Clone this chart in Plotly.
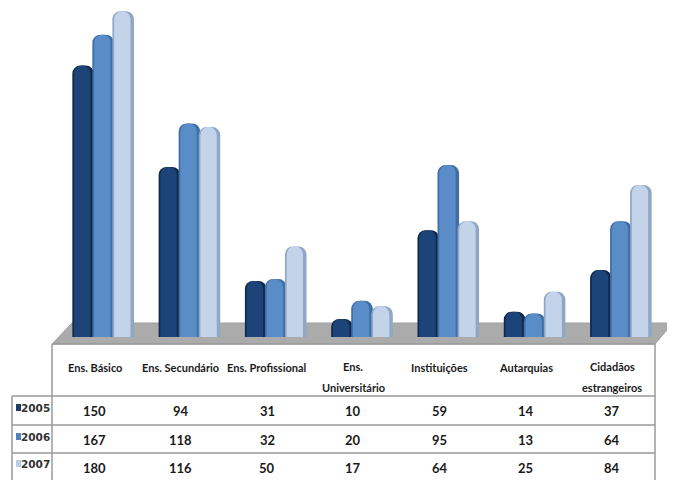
import plotly.graph_objects as go

categories = ["Ens. Básico", "Ens. Secundário", "Ens. Profissional", "Ens.<br>Universitário",
              "Instituições", "Autarquias", "Cidadãos<br>estrangeiros"]
years = ["2005", "2006", "2007"]
v2005 = [150, 94, 31, 10, 59, 14, 37]
v2006 = [167, 118, 32, 20, 95, 13, 64]
v2007 = [180, 116, 50, 17, 64, 25, 84]
series = [v2005, v2006, v2007]
edge = ["#12294a", "#3f6ea6", "#8fa6c4"]
main = ["#1d4478", "#5a8cc8", "#c3d4ea"]
key = ["#1d3d6b", "#4f81bd", "#b9cde5"]

# The page body adds an 8px margin, so the figure is 8px smaller and all page coordinates shift by 8.
PAGE = 8
W, H = 667, 472
ML, MR, MT, MB = 52, 11, 0, 143
def px(x):
    return (x - PAGE - ML) / (W - ML - MR)
def py(y):
    return 1 - (y - PAGE - MT) / (H - MT - MB)

FONT = "Lato, sans-serif"
INK = "#1a1a1a"
fig = go.Figure()
xs = list(range(len(categories)))
shift = [-0.232, 0, 0.232]
for i, yr in enumerate(years):
    fig.add_bar(x=xs, y=series[i], width=0.25, offset=shift[i] - 0.125,
                marker=dict(color=edge[i], line_width=0), name=yr, showlegend=False, hoverinfo="y")
    fig.add_bar(x=xs, y=series[i], width=0.19, offset=shift[i] - 0.105,
                marker=dict(color=main[i], line_width=0), name=yr, showlegend=False, hoverinfo="skip")

shapes = [
    dict(type="path", path=f"M {px(52)} {py(344)} L {px(72)} {py(323)} L {px(673)} {py(323)} L {px(655)} {py(344)} Z",
         xref="paper", yref="paper", fillcolor="#ababab", line=dict(color="#a0a0a0", width=1), layer="below"),
]
def seg(x0, y0, x1, y1):
    return dict(type="line", xref="paper", yref="paper", x0=px(x0), y0=py(y0), x1=px(x1), y1=py(y1),
                line=dict(color="#9a9a9a", width=1.5))
shapes += [seg(52, 344, 655, 344), seg(52, 344, 52, 480), seg(655, 344, 655, 480),
           seg(12, 396, 655, 396), seg(12, 425, 655, 425), seg(12, 453, 655, 453), seg(12, 396, 12, 480)]

ann = []
row_y = [411, 440, 468]
label_y = [408, 437, 464]
for c, name in enumerate(categories):
    tx = c - 0.1
    lines = name.split("<br>")
    line_y = [366, 387] if len(lines) == 2 else [367]
    for text, y in zip(lines, line_y):
        ann.append(dict(x=tx, y=py(y), xref="x", yref="paper", text=f"<b>{text}</b>", showarrow=False,
                        yanchor="middle", font=dict(family=FONT, size=11, color=INK)))
    for r in range(3):
        ann.append(dict(x=tx, y=py(row_y[r]), xref="x", yref="paper", text=f"<b>{series[r][c]}</b>",
                        showarrow=False, yanchor="middle", font=dict(family=FONT, size=13, color=INK)))
for r, yr in enumerate(years):
    ann.append(dict(x=px(21), y=py(label_y[r]), xref="paper", yref="paper", xanchor="left", yanchor="middle",
                    text=f"<b>{yr}</b>", showarrow=False, xshift=-2,
                    font=dict(family="DejaVu Sans", size=10.5, color="#333333")))
    shapes.append(dict(type="rect", xref="paper", yref="paper", x0=px(16), x1=px(21),
                       y0=py(label_y[r] + 3), y1=py(label_y[r] - 4), fillcolor=key[r], line_width=0))

fig.update_layout(
    width=W, height=H, autosize=False, margin=dict(l=ML, r=MR, t=MT, b=MB),
    barmode="overlay", barcornerradius=8, plot_bgcolor="white", paper_bgcolor="white",
    xaxis=dict(range=[-0.5, 6.5], visible=False, fixedrange=True),
    yaxis=dict(range=[0, 181.8], visible=False, fixedrange=True),
    shapes=shapes, annotations=ann,
)
fig.write_html("out.html")
